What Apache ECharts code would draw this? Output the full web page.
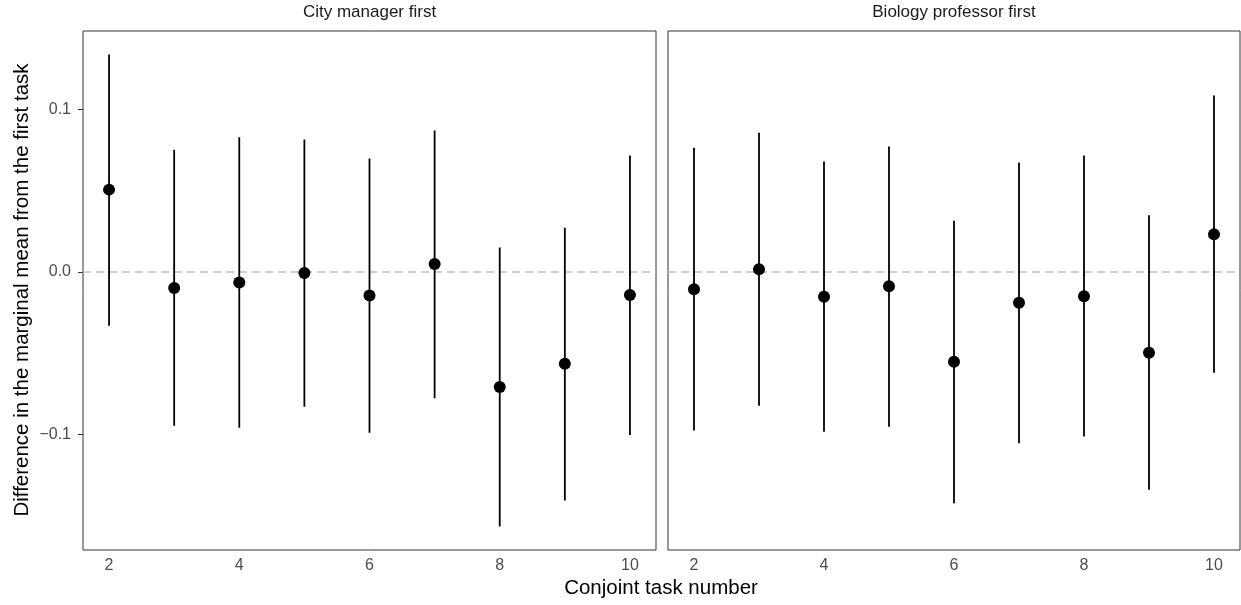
<!DOCTYPE html>
<html>
<head>
<meta charset="utf-8">
<script src="https://cdn.jsdelivr.net/npm/echarts@6/dist/echarts.min.js"></script>
<style>
html,body{margin:0;padding:0;background:#fff;}
#chart{width:1241px;height:605px;}
</style>
</head>
<body>
<div id="chart"></div>
<script>
// ---- data ----
var tasks = [2, 3, 4, 5, 6, 7, 8, 9, 10];
var panelTitles = ['City manager first', 'Biology professor first'];
var cityEst = [0.0506, -0.0098, -0.0065, -0.0006, -0.0145, 0.0049, -0.0707, -0.0564, -0.0141];
var cityLo  = [-0.0331, -0.0945, -0.0957, -0.0828, -0.0988, -0.0777, -0.1564, -0.1405, -0.1002];
var cityHi  = [0.1336, 0.0751, 0.0828, 0.0814, 0.0698, 0.0869, 0.0150, 0.0272, 0.0716];
var bioEst  = [-0.0106, 0.0017, -0.0153, -0.0088, -0.0552, -0.0190, -0.0149, -0.0497, 0.0231];
var bioLo   = [-0.0975, -0.0822, -0.0982, -0.0951, -0.1421, -0.1053, -0.1012, -0.1339, -0.0620];
var bioHi   = [0.0763, 0.0855, 0.0679, 0.0771, 0.0315, 0.0673, 0.0716, 0.0348, 0.1084];
var xTicks = [2, 4, 6, 8, 10];
var yTicks = [-0.1, 0, 0.1];
var xTitle = 'Conjoint task number';
var yTitle = 'Difference in the marginal mean from the first task';

// ---- chart ----
var FONT = '"Liberation Sans", Arial, Helvetica, sans-serif';
var chart = echarts.init(document.getElementById('chart'), null, {renderer: 'canvas'});

var allLo = cityLo.concat(bioLo), allHi = cityHi.concat(bioHi);
var yMin = Math.min.apply(null, allLo), yMax = Math.max.apply(null, allHi);
var yPad = (yMax - yMin) * 0.05;
var xMin = tasks[0], xMax = tasks[tasks.length - 1];
var xPad = (xMax - xMin) * 0.05;

var grids = [
  {left: 83, top: 31, width: 573, height: 519},
  {left: 668, top: 31, width: 572, height: 519}
];

function xAxisFor(i) {
  return {
    type: 'value', gridIndex: i, min: xMin - xPad, max: xMax + xPad,
    axisLine: {show: false},
    splitLine: {show: false},
    axisTick: {show: true, customValues: xTicks, length: 4, lineStyle: {color: '#333333', width: 1}},
    axisLabel: {show: true, customValues: xTicks, margin: 8, color: '#4D4D4D', fontSize: 16, fontFamily: FONT}
  };
}
function yAxisFor(i) {
  return {
    type: 'value', gridIndex: i, min: yMin - yPad, max: yMax + yPad,
    axisLine: {show: false},
    splitLine: {show: false},
    axisTick: {show: i === 0, customValues: yTicks, length: 5, lineStyle: {color: '#333333', width: 1}},
    axisLabel: {show: i === 0, customValues: yTicks, margin: 12, color: '#4D4D4D', fontSize: 16, fontFamily: FONT,
      formatter: function (v) { return v.toFixed(1).replace('-', '\u2212'); }}
  };
}

function errSeries(i, lo, hi) {
  var data = tasks.map(function (t, k) { return [t, lo[k], hi[k]]; });
  return {
    type: 'custom', xAxisIndex: i, yAxisIndex: i, data: data, silent: true,
    renderItem: function (params, api) {
      var a = api.coord([api.value(0), api.value(1)]);
      var b = api.coord([api.value(0), api.value(2)]);
      return {type: 'line', shape: {x1: a[0], y1: a[1], x2: b[0], y2: b[1]},
        style: {stroke: '#000000', lineWidth: 1.8}};
    },
    z: 3
  };
}
function ptSeries(i, est) {
  return {
    type: 'scatter', xAxisIndex: i, yAxisIndex: i,
    data: tasks.map(function (t, k) { return [t, est[k]]; }),
    symbol: 'circle', symbolSize: 12,
    itemStyle: {color: '#000000', opacity: 1}, silent: true, z: 4,
    markLine: {
      silent: true, symbol: 'none', label: {show: false},
      lineStyle: {color: '#BEBEBE', type: [8, 5], width: 1.5},
      data: [{yAxis: 0}],
      z: 1
    }
  };
}

var option = {
  backgroundColor: '#ffffff',
  animation: false,
  grid: grids.map(function (g) {
    return Object.assign({show: true, borderColor: '#333333', borderWidth: 1, backgroundColor: '#ffffff'}, g);
  }),
  xAxis: [xAxisFor(0), xAxisFor(1)],
  yAxis: [yAxisFor(0), yAxisFor(1)],
  series: [
    errSeries(0, cityLo, cityHi), ptSeries(0, cityEst),
    errSeries(1, bioLo, bioHi), ptSeries(1, bioEst)
  ],
  graphic: [
    {type: 'text', x: 83 + 573 / 2, y: 12,
      style: {text: panelTitles[0], fill: '#1A1A1A', font: '17px ' + FONT, textAlign: 'center', textVerticalAlign: 'middle'}},
    {type: 'text', x: 668 + 572 / 2, y: 12,
      style: {text: panelTitles[1], fill: '#1A1A1A', font: '17px ' + FONT, textAlign: 'center', textVerticalAlign: 'middle'}},
    {type: 'text', x: 661, y: 588,
      style: {text: xTitle, fill: '#000000', font: '20.5px ' + FONT, textAlign: 'center', textVerticalAlign: 'middle'}},
    {type: 'text', x: 22, y: 290, rotation: Math.PI / 2,
      style: {text: yTitle, fill: '#000000', font: '20.5px ' + FONT, textAlign: 'center', textVerticalAlign: 'middle'}}
  ]
};
chart.setOption(option);
</script>
</body>
</html>
